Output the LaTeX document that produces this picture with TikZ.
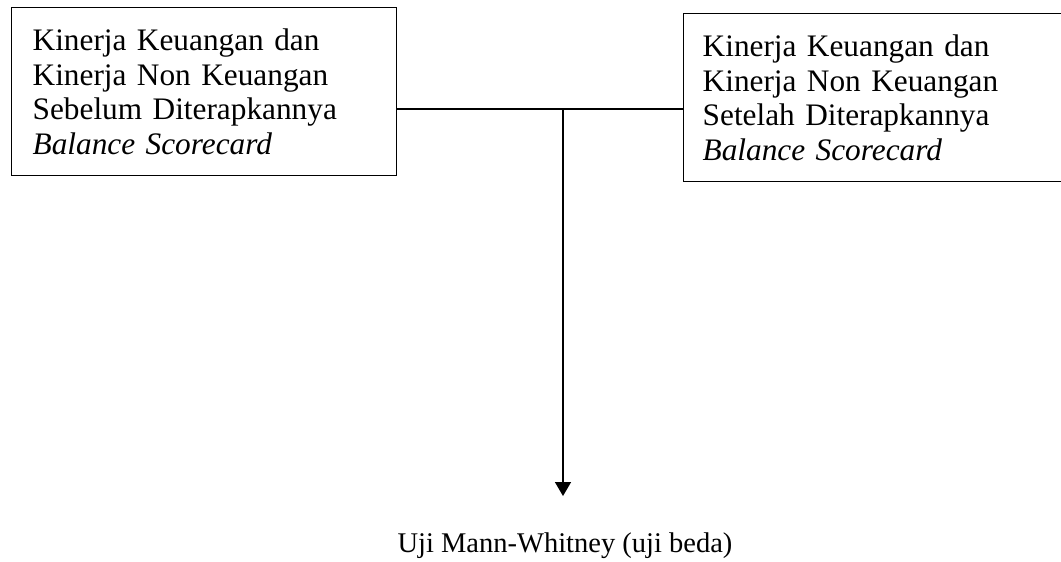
\documentclass[tikz,border=0pt]{standalone}
\usepackage{fontspec}
\setmainfont{Liberation Serif}
\usetikzlibrary{arrows.meta,positioning}

\begin{document}
\begin{tikzpicture}[
  x=1pt,y=-1pt,
  >={Triangle[length=14pt,width=16pt]},
  databox/.style={draw=black,line width=1.4pt,anchor=north west,align=left,inner xsep=21pt,inner ysep=0pt,font=\fontsize{31.3}{34.6}\selectfont,minimum height=168pt},
  arrow/.style={->,line width=1.4pt,draw=black},
  bus/.style={line width=1.4pt,draw=black},
  result/.style={anchor=base,inner xsep=0pt,inner ysep=36pt,font=\fontsize{28.5}{34}\selectfont}
]
\fill[white] (0,0) rectangle (1061,562);
\useasboundingbox (0,0) rectangle (1061,562);

\node[databox,text width=343pt] (before) at (11,7) {
  Kinerja Keuangan dan\\
  Kinerja Non Keuangan\\
  Sebelum Diterapkannya\\
  \textit{Balance Scorecard}
};
\node[databox,text width=358pt,inner xsep=19pt] (after) at (683,13) {
  Kinerja Keuangan dan\\
  Kinerja Non Keuangan\\
  Setelah Diterapkannya\\
  \textit{Balance Scorecard}
};
\node[result] (uji) at (565,552) {Uji Mann-Whitney (uji beda)};

\coordinate (joint) at (563,109);
\draw[bus] (joint -| before.east) -- (joint -| after.west);
\draw[arrow] (joint) -- (joint |- uji.north);

\end{tikzpicture}
\end{document}
